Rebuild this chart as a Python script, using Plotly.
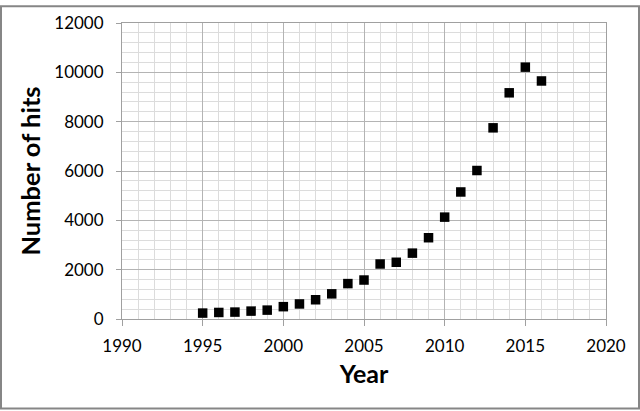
import plotly.graph_objects as go

years = list(range(1995, 2017))
hits = [240, 265, 280, 320, 360, 500, 610, 780, 1020, 1435, 1580, 2230, 2300, 2670,
        3295, 4130, 5150, 6020, 7750, 9170, 10210, 9650]

x_ticks = [1990, 1995, 2000, 2005, 2010, 2015, 2020]
y_ticks = [0, 2000, 4000, 6000, 8000, 10000, 12000]

fig = go.Figure()
fig.add_trace(go.Scatter(
    x=years, y=hits, mode="markers",
    marker=dict(symbol="square", size=9.5, color="black", line=dict(width=0)),
    showlegend=False,
))

font_family = "Lato, 'Open Sans', sans-serif"
W, H = 640, 411
L, R, T, B = 122, 34, 18, 92
pw, ph = W - L - R, H - T - B

fig.update_layout(
    width=W, height=H,
    margin=dict(l=L, r=R, t=T, b=B),
    plot_bgcolor="white", paper_bgcolor="white",
    font=dict(family=font_family, size=17, color="black"),
    xaxis=dict(
        range=[1990, 2020], tickvals=x_ticks, ticktext=[str(v) for v in x_ticks],
        showgrid=True, gridcolor="#b4b4b4", gridwidth=1,
        minor=dict(dtick=1, showgrid=True, gridcolor="#dcdcdc", gridwidth=1),
        ticks="outside", ticklen=6, tickcolor="#a0a0a0", ticklabelstandoff=6,
        showline=True, linecolor="#a0a0a0", mirror=True, zeroline=False,
        title=dict(text="<b>Year</b>", font=dict(size=25), standoff=10),
    ),
    yaxis=dict(
        range=[0, 12000], tickvals=y_ticks, ticktext=[str(v) for v in y_ticks],
        showgrid=True, gridcolor="#b4b4b4", gridwidth=1,
        minor=dict(dtick=400, showgrid=True, gridcolor="#dcdcdc", gridwidth=1),
        ticks="outside", ticklen=5, tickcolor="#a0a0a0", ticklabelstandoff=9,
        showline=True, linecolor="#a0a0a0", mirror=True, zeroline=False,
        title=dict(text="<b>Number of hits</b>", font=dict(size=25.5), standoff=6),
    ),
    shapes=[dict(
        type="rect", xref="paper", yref="paper",
        x0=(1 - L) / pw, x1=(W - 1 - L) / pw,
        y0=(T + ph - (H - 1)) / ph, y1=(T + ph - 1) / ph,
        line=dict(color="#868686", width=2), fillcolor="rgba(0,0,0,0)", layer="above",
    )],
)

fig.write_html(
    "out.html",
    config={"displayModeBar": False},
    post_script="document.body.style.margin='0';document.body.style.overflow='hidden';",
)
